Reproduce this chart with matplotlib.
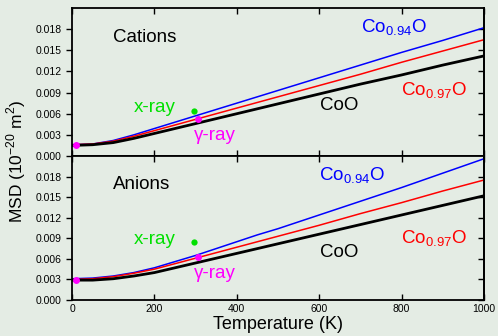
import numpy as np
import matplotlib
matplotlib.use("Agg")
import matplotlib.pyplot as plt

plt.rcParams['font.family'] = ['Liberation Sans', 'DejaVu Sans']
plt.rcParams['mathtext.fontset'] = 'custom'
plt.rcParams['mathtext.rm'] = 'Liberation Sans'

# Temperature grid (K) for the model curves
temp = [0, 50, 100, 150, 200, 250, 300, 350, 400, 450, 500, 600, 700, 800, 900, 1000]

# cations: MSD in 1e-20 m^2
cat_co094 = [0.0016, 0.0017, 0.0022, 0.0030, 0.0039, 0.0048, 0.0057, 0.0066,
             0.0075, 0.0084, 0.0093, 0.0111, 0.0129, 0.0147, 0.0164, 0.0182]
cat_co097 = [0.0016, 0.0017, 0.0021, 0.0028, 0.0036, 0.0044, 0.0052, 0.0060,
             0.0068, 0.0076, 0.0084, 0.0100, 0.0116, 0.0133, 0.0149, 0.0165]
cat_coo = [0.0015, 0.0016, 0.0019, 0.0025, 0.0032, 0.0039, 0.0046, 0.0053,
           0.0060, 0.0067, 0.0074, 0.0088, 0.0102, 0.0115, 0.0129, 0.0142]

# anions
an_co094 = [0.0031, 0.0032, 0.0035, 0.0040, 0.0047, 0.0056, 0.0065, 0.0075,
            0.0085, 0.0095, 0.0104, 0.0124, 0.0144, 0.0164, 0.0185, 0.0206]
an_co097 = [0.0030, 0.0031, 0.0034, 0.0039, 0.0045, 0.0053, 0.0061, 0.0069,
            0.0077, 0.0085, 0.0093, 0.0109, 0.0126, 0.0142, 0.0159, 0.0175]
an_coo = [0.0029, 0.0029, 0.0031, 0.0035, 0.0040, 0.0047, 0.0054, 0.0061,
          0.0068, 0.0075, 0.0082, 0.0096, 0.0110, 0.0124, 0.0138, 0.0152]

# measured points (T, MSD)
xray_T = [297]
cat_xray = [0.0064]
an_xray = [0.0084]
gamma_T = [10, 307]
cat_gamma = [0.0016, 0.0052]
an_gamma = [0.0029, 0.0063]

yticks = [0.000, 0.003, 0.006, 0.009, 0.012, 0.015, 0.018]
xticks = [0, 200, 400, 600, 800, 1000]

bg = '#e4ece4'
fig = plt.figure(figsize=(4.98, 3.36), dpi=100, facecolor=bg)
ax1 = fig.add_axes([0.1446, 0.5357, 0.8273, 0.4405], facecolor=bg)
ax2 = fig.add_axes([0.1446, 0.1071, 0.8273, 0.4286], facecolor=bg)


def panel(ax, blue, red, black, xr, gm, title, lab):
    ax.plot(temp, blue, color='#0000ff', lw=1.1)
    ax.plot(temp, red, color='#ff0000', lw=1.1)
    ax.plot(temp, black, color='black', lw=2.0)
    ax.plot(xray_T, xr, 'o', color='#00e000', ms=4.5, mec='none')
    ax.plot(gamma_T, gm, 'o', color='#ff00ff', ms=5, mec='none', clip_on=False)
    ax.set_xlim(0, 1000)
    ax.set_ylim(0, 0.021)
    ax.set_xticks(xticks)
    ax.set_yticks(yticks)
    ax.set_yticklabels(['%.3f' % v for v in yticks])
    ax.tick_params(axis='y', which='both', direction='out', length=4, width=1,
                   labelsize=7.5, right=False)
    ax.tick_params(axis='x', direction='in', length=4, width=1, top=True,
                   labelsize=7.5)
    # inward ticks on the right side
    axr = ax.secondary_yaxis('right')
    axr.set_yticks(yticks)
    axr.tick_params(direction='in', length=4, width=1, labelright=False)
    axr.spines['right'].set_linewidth(1.3)
    for s in ax.spines.values():
        s.set_linewidth(1.3)
    fs = 13.5
    ax.text(100, title[1], title[0], fontsize=fs, va='center')
    ax.text(lab[0][0], lab[0][1], r'Co$_{0.94}$O', color='#0000ff', fontsize=fs, va='center')
    ax.text(799, lab[1], r'Co$_{0.97}$O', color='#ff0000', fontsize=fs, va='center')
    ax.text(602, lab[2], 'CoO', color='black', fontsize=fs, va='center')
    ax.text(150, lab[3], 'x-ray', color='#00e000', fontsize=fs, va='center')
    ax.text(296, lab[4], '\u03b3-ray', color='#ff00ff', fontsize=fs, va='center')


panel(ax1, cat_co094, cat_co097, cat_coo, cat_xray, cat_gamma,
      ('Cations', 0.0168), [(701, 0.0182), 0.0092, 0.0071, 0.0069, 0.0029])
panel(ax2, an_co094, an_co097, an_coo, an_xray, an_gamma,
      ('Anions', 0.0169), [(600, 0.0181), 0.0089, 0.0069, 0.0088, 0.0039])

ax1.tick_params(axis='x', labelbottom=False)
ax2.tick_params(axis='x', pad=3)
ax2.set_xlabel('Temperature (K)', fontsize=13, labelpad=1)
fig.text(0.032, 0.52, r'MSD (10$^{-20}$ m$^{2}$)', rotation=90, fontsize=12.5,
         ha='center', va='center')

fig.savefig('out.png', dpi=100, facecolor=bg)
